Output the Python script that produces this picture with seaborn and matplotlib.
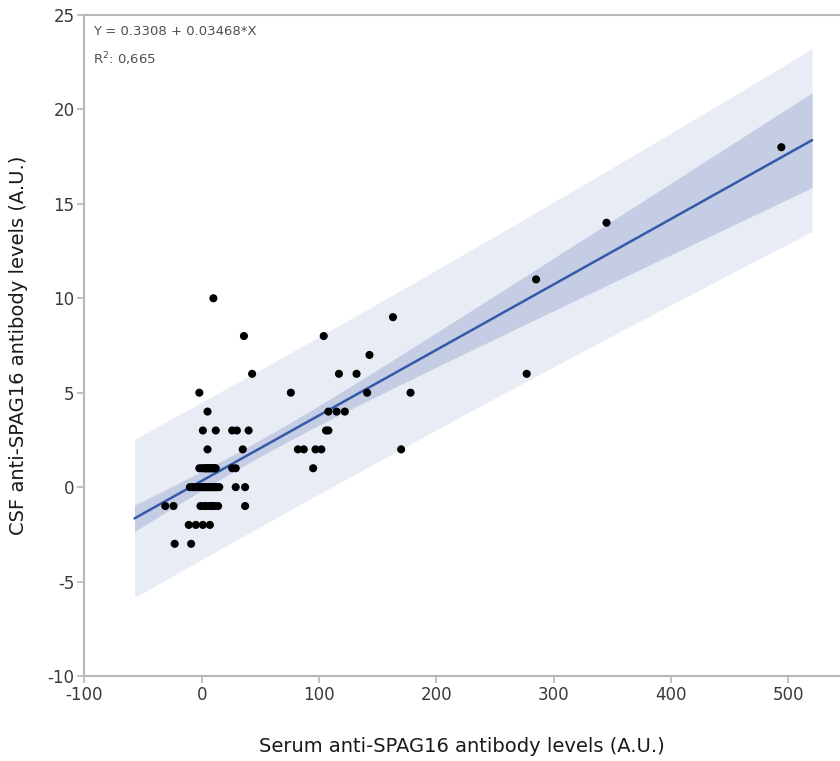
import numpy as np
import pandas as pd
import matplotlib
matplotlib.use("Agg")
import matplotlib.pyplot as plt
import seaborn as sns

# Serum vs CSF anti-SPAG16 antibody levels (A.U.); rows grouped by CSF value.
# Several low-titre samples share nearly the same coordinates and overlap.
serum = [494, 345, 285, 10, 163, 36, 104, 143,
         43, 117, 132, 277,
         -2, 76, 141, 178,
         5, 108, 115, 122,
         1, 12, 26, 30, 40, 106, 108,
         5, 35, 82, 87, 97, 102, 170,
         -2, 0, 2, 3, 4, 5, 6, 7, 8, 9, 10, 11, 12, 26, 29, 95,
         -10, -8, -6, -4, -2, 0, 1, 2, 3, 4, 5, 6, 7, 8, 9, 10, 11, 12, 13,
         15, 29, 37,
         -31, -24, -1, 2, 4, 7, 9, 11, 14, 37,
         -11, -5, 1, 7,
         -23, -9]
csf = [18, 14, 11, 10, 9, 8, 8, 7,
       6, 6, 6, 6,
       5, 5, 5, 5,
       4, 4, 4, 4,
       3, 3, 3, 3, 3, 3, 3,
       2, 2, 2, 2, 2, 2, 2,
       1, 1, 1, 1, 1, 1, 1, 1, 1, 1, 1, 1, 1, 1, 1, 1,
       0, 0, 0, 0, 0, 0, 0, 0, 0, 0, 0, 0, 0, 0, 0, 0, 0, 0, 0,
       0, 0, 0,
       -1, -1, -1, -1, -1, -1, -1, -1, -1, -1,
       -2, -2, -2, -2,
       -3, -3]

# Reported linear fit
intercept = 0.3308
slope = 0.03468
r2_text = "0,665"
T_975 = 1.99  # two-sided 95% Student t quantile for n - 2 df

x_ticks = [-100, 0, 100, 200, 300, 400, 500]
y_ticks = [-10, -5, 0, 5, 10, 15, 20, 25]

df = pd.DataFrame({"serum": serum, "csf": csf})

# Confidence band for the mean and prediction band for new observations
x = df["serum"].to_numpy(float)
y = df["csf"].to_numpy(float)
n = len(x)
xbar = x.mean()
sxx = ((x - xbar) ** 2).sum()
resid = y - (intercept + slope * x)
s = np.sqrt((resid ** 2).sum() / (n - 2))
span = x.max() - x.min()
grid = np.linspace(x.min() - 0.05 * span, x.max() + 0.05 * span, 200)
fit = intercept + slope * grid
lev = 1.0 / n + (grid - xbar) ** 2 / sxx
ci = T_975 * s * np.sqrt(lev)
pi = T_975 * s * np.sqrt(1.0 + lev)

sns.set_style("white")
plt.rcParams["font.family"] = ["DejaVu Sans"]

fig = plt.figure(figsize=(8.4, 7.61), dpi=100)
ax = fig.add_axes([0.1004, 0.1117, 0.8996, 0.8686])

ax.fill_between(grid, fit - pi, fit + pi, color="#e8ecf4", lw=0, zorder=1)
ax.fill_between(grid, fit - ci, fit + ci, color="#c4cde4", lw=0, zorder=2)
sns.lineplot(x=grid, y=fit, ax=ax, color="#3559a8", lw=1.8, zorder=3)
sns.scatterplot(data=df, x="serum", y="csf", ax=ax, color="black",
                s=34, edgecolor="none", zorder=4)

ax.set_xlim(-100, 544)
ax.set_ylim(-10, 25)
ax.set_xticks(x_ticks)
ax.set_yticks(y_ticks)
ax.set_xticklabels([str(v) for v in x_ticks])
ax.set_yticklabels([str(v) for v in y_ticks])

for side in ["left", "bottom", "top"]:
    ax.spines[side].set_visible(True)
    ax.spines[side].set_color("#b8b8b8")
    ax.spines[side].set_linewidth(1.5)
ax.spines["right"].set_visible(False)

ax.tick_params(axis="both", which="major", direction="out", length=5,
               width=1.2, color="#b8b8b8", labelsize=12, labelcolor="#3a3a3a",
               bottom=True, left=True, pad=2)

ax.set_xlabel("Serum anti-SPAG16 antibody levels (A.U.)", fontsize=14,
              color="#1a1a1a", labelpad=24)
ax.set_ylabel("CSF anti-SPAG16 antibody levels (A.U.)", fontsize=14,
              color="#1a1a1a", labelpad=14)

ax.text(0.012, 0.985, f"Y = {intercept} + {slope}*X", transform=ax.transAxes,
        ha="left", va="top", fontsize=9.5, color="#505050")
ax.text(0.012, 0.947, f"R$^2$: {r2_text}", transform=ax.transAxes,
        ha="left", va="top", fontsize=9.5, color="#505050")

fig.savefig("out.png", dpi=100)
